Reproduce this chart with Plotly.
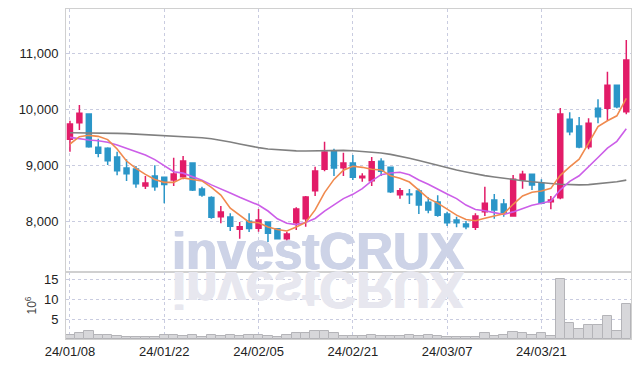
import plotly.graph_objects as go
from plotly.subplots import make_subplots
import pandas as pd

dates = ["24/01/08", "24/01/09", "24/01/10", "24/01/11", "24/01/12", "24/01/15", "24/01/16", "24/01/17", "24/01/18", "24/01/19",
         "24/01/22", "24/01/23", "24/01/24", "24/01/25", "24/01/26", "24/01/29", "24/01/30", "24/01/31", "24/02/01", "24/02/02",
         "24/02/05", "24/02/06", "24/02/07", "24/02/08", "24/02/13", "24/02/14", "24/02/15", "24/02/16", "24/02/19", "24/02/20",
         "24/02/21", "24/02/22", "24/02/23", "24/02/26", "24/02/27", "24/02/28", "24/02/29", "24/03/04", "24/03/05", "24/03/06",
         "24/03/07", "24/03/08", "24/03/11", "24/03/12", "24/03/13", "24/03/14", "24/03/15", "24/03/18", "24/03/19", "24/03/20",
         "24/03/21", "24/03/22", "24/03/25", "24/03/26", "24/03/27", "24/03/28", "24/03/29", "24/04/01", "24/04/02", "24/04/03"]

opens = [9459, 9755, 9911, 9316, 9298, 9143, 8946, 8929, 8625, 8804,
         8781, 8732, 8791, 9036, 8571, 8418, 8077, 8071, 7852, 7995,
         7870, 7982, 7862, 7684, 7970, 8041, 8541, 8923, 9256, 8952,
         9036, 8773, 8720, 9066, 8959, 8470, 8482, 8536, 8334, 8339,
         8125, 8018, 7946, 7888, 8166, 8375, 8304, 8089, 8732, 8834,
         8673, 8345, 8416, 9816, 9696, 9327, 10012, 10012, 10423, 9952]
highs = [9791, 10071, 9911, 9470, 9316, 9237, 9102, 8982, 8804, 8995,
         8790, 9130, 9161, 9036, 8613, 8440, 8268, 8138, 7982, 8138,
         8214, 7982, 7862, 7809, 8245, 8446, 8970, 9416, 9291, 9220,
         9179, 8852, 9143, 9120, 8959, 8589, 8571, 8577, 8423, 8459,
         8166, 8077, 8000, 8138, 8613, 8482, 8393, 8821, 8898, 8834,
         8744, 8446, 10018, 9941, 9857, 9833, 10173, 10666, 10430, 11232]
lows = [9237, 9625, 9310, 9138, 9000, 8816, 8714, 8595, 8571, 8541,
        8316, 8625, 8745, 8536, 8434, 8041, 7959, 7821, 7684, 7804,
        7809, 7625, 7670, 7620, 7839, 7898, 8446, 8887, 8804, 8804,
        8732, 8702, 8625, 8804, 8500, 8398, 8304, 8125, 8139, 8077,
        7911, 7888, 7852, 7839, 8089, 8041, 8077, 8077, 8577, 8554,
        8300, 8209, 8387, 9530, 9298, 9280, 9744, 9791, 10012, 9905]
closes = [9732, 9923, 9327, 9209, 9077, 8898, 8845, 8666, 8679, 8613,
          8650, 8839, 9071, 8554, 8464, 8068, 8161, 7905, 7898, 7864,
          8018, 7780, 7684, 7768, 8214, 8429, 8893, 9232, 8946, 9036,
          8780, 8798, 9059, 8887, 8523, 8541, 8470, 8286, 8196, 8102,
          7970, 7970, 7898, 8089, 8316, 8196, 8148, 8744, 8834, 8643,
          8316, 8375, 9911, 9595, 9321, 9744, 9863, 10423, 10041, 10875]
volumes_m = [1.1, 1.6, 1.9, 1.1, 1.1, 0.8, 0.4, 0.5, 0.6, 0.6,
             1.1, 1.1, 0.8, 1.1, 0.4, 1.1, 0.8, 1.1, 0.8, 1.1,
             1.1, 0.8, 0.5, 0.9, 1.5, 1.5, 2.1, 2.1, 1.4, 0.8,
             0.75, 0.75, 1.1, 0.75, 0.75, 0.75, 1.1, 0.75, 1.1, 0.75,
             0.4, 0.4, 0.4, 0.4, 1.6, 0.75, 1.1, 1.8, 1.4, 1.1,
             1.4, 0.8, 15.0, 4.1, 2.6, 3.6, 3.6, 5.8, 2.1, 8.8]
# first values of the moving averages (they depend on earlier, unseen sessions)
ma5_head = [9375, 9506, 9530, 9512]
ma10_head = [9494, 9464, 9446, 9434, 9405, 9357, 9298, 9238, 9179]
ma60 = [9575, 9575, 9572, 9570, 9568, 9565, 9560, 9552, 9545, 9535,
        9527, 9520, 9510, 9500, 9487, 9470, 9445, 9410, 9375, 9340,
        9310, 9285, 9270, 9260, 9252, 9250, 9255, 9262, 9265, 9262,
        9255, 9245, 9232, 9215, 9190, 9160, 9120, 9080, 9035, 8990,
        8950, 8910, 8875, 8840, 8810, 8785, 8760, 8740, 8720, 8700,
        8690, 8670, 8655, 8645, 8645, 8650, 8665, 8680, 8700, 8730]

price_ticks = [8000, 9000, 10000, 11000]
vol_ticks = [5, 10, 15]
x_tick_idx = [0, 10, 20, 30, 40, 50]

s = pd.Series(closes, dtype=float)
ma5 = s.rolling(5).mean().tolist()
ma5[:4] = ma5_head
ma10 = s.rolling(10).mean().tolist()
ma10[:9] = ma10_head

UP = "#e21c68"
DOWN = "#2b96c8"
GRID = "#c9cce0"

fig = make_subplots(rows=2, cols=1, shared_xaxes=True, vertical_spacing=0,
                    row_heights=[0.797, 0.203])

fig.add_trace(go.Candlestick(
    x=dates, open=opens, high=highs, low=lows, close=closes,
    increasing=dict(line=dict(color=UP, width=1.5), fillcolor=UP),
    decreasing=dict(line=dict(color=DOWN, width=1.5), fillcolor=DOWN),
    showlegend=False, hoverinfo="skip"), row=1, col=1)

fig.add_trace(go.Scatter(x=dates, y=ma60, mode="lines",
                         line=dict(color="#808080", width=1.6), showlegend=False), row=1, col=1)
fig.add_trace(go.Scatter(x=dates, y=ma10, mode="lines",
                         line=dict(color="#cc5ee8", width=1.6), showlegend=False), row=1, col=1)
fig.add_trace(go.Scatter(x=dates, y=ma5, mode="lines",
                         line=dict(color="#f08a4e", width=1.6), showlegend=False), row=1, col=1)

fig.add_trace(go.Bar(x=dates, y=volumes_m, marker=dict(color="#d7d7da", line=dict(color="#b4b4b8", width=1)),
                     showlegend=False), row=2, col=1)

axis_font = dict(family="Liberation Sans, Arial, sans-serif", size=13, color="#222222")

fig.update_xaxes(type="category", categoryorder="array", categoryarray=dates,
                 range=[-0.42, 59.5], showgrid=True, gridcolor=GRID, griddash="dot", gridwidth=1,
                 tickvals=[dates[i] for i in x_tick_idx], ticktext=[dates[i] for i in x_tick_idx],
                 showline=True, linecolor="#d0d0d0", mirror=True, zeroline=False, automargin=False,
                 ticks="", tickfont=axis_font, rangeslider=dict(visible=False))
fig.update_xaxes(showticklabels=False, row=1, col=1)

fig.update_yaxes(range=[7089, 11786], tickvals=price_ticks, tickformat=",",
                 showgrid=True, gridcolor=GRID, griddash="dot", gridwidth=1, automargin=False,
                 showline=True, linecolor="#d0d0d0", mirror=True, zeroline=False,
                 ticks="outside", ticklen=4, tickcolor="rgba(0,0,0,0)", tickfont=axis_font,
                 row=1, col=1)
fig.update_yaxes(range=[0, 16.88], tickvals=vol_ticks,
                 showgrid=True, gridcolor=GRID, griddash="dot", gridwidth=1, automargin=False,
                 showline=True, linecolor="#d0d0d0", mirror=True, zeroline=False,
                 ticks="outside", ticklen=4, tickcolor="rgba(0,0,0,0)", tickfont=axis_font,
                 title=dict(text="10<sup>6</sup>", font=dict(family="Liberation Sans, Arial", size=12, color="#444"),
                            standoff=4),
                 row=2, col=1)

WM_MAIN = "#cdd3e7"
WM_REFL = "#e7e7ef"
wm_x = (318 - 66) / 565
fig.add_annotation(text="<b>investCRUX</b>", xref="paper", yref="paper", x=wm_x, y=0.203,
                   xanchor="center", yanchor="bottom", showarrow=False, yshift=-10,
                   font=dict(family="Liberation Sans, Arial, sans-serif", size=51, color=WM_MAIN,
                             shadow="0.8px 0 0 %s, -0.8px 0 0 %s" % (WM_MAIN, WM_MAIN)))
fig.add_annotation(text="<b>investCRUX</b>", xref="paper", yref="paper", x=wm_x, y=0.203,
                   xanchor="center", yanchor="bottom", showarrow=False, yshift=-10,
                   font=dict(family="Liberation Sans, Arial, sans-serif", size=51, color=WM_REFL,
                             shadow="0.8px 0 0 %s, -0.8px 0 0 %s" % (WM_REFL, WM_REFL)))

fig.update_layout(width=639, height=366, margin=dict(l=66, r=8, t=9, b=27, autoexpand=False),
                  paper_bgcolor="white", plot_bgcolor="white", bargap=0, boxgap=0.25,
                  showlegend=False)

post = """
(function(){
  document.documentElement.style.margin = '0';
  document.body.style.margin = '0';
  document.body.style.padding = '0';
  var gd = document.getElementById('{plot_id}');
  function flip(){
    var anns = gd.querySelectorAll('g.annotation');
    if (anns.length < 2) return;
    var mainText = anns[0].querySelector('text');
    var bb = mainText.getBBox();
    var ctm = mainText.getCTM();
    var baseline = bb.y + bb.height * 0.905 / 1.117;
    var pt = ctm ? (ctm.f + baseline * ctm.d) : baseline;
    var m = pt + 1.5;
    anns[1].setAttribute('transform', 'translate(0,' + (2 * m) + ') scale(1,-1)');
  }
  flip();
  gd.on && gd.on('plotly_afterplot', flip);
})();
"""

fig.write_html("out.html", post_script=post, config={"displayModeBar": False})
